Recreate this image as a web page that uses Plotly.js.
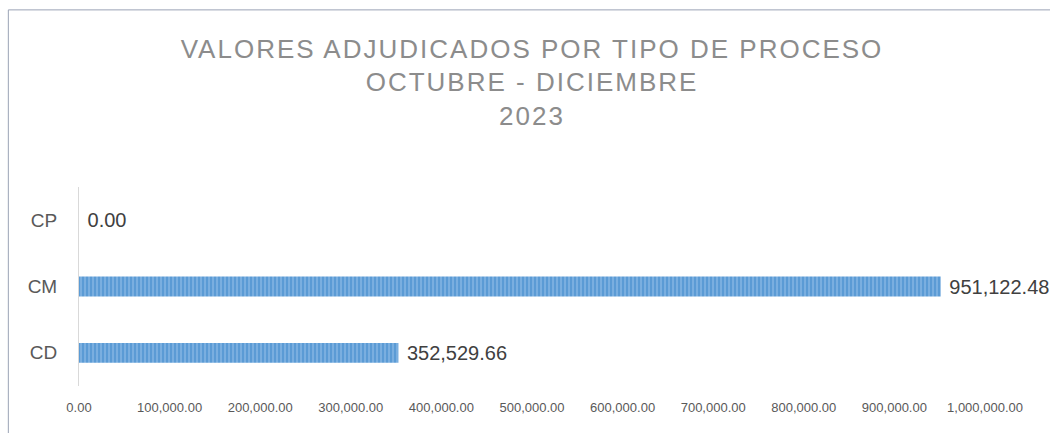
<!DOCTYPE html>
<html>
<head>
<meta charset="utf-8">
<script src="https://cdn.plot.ly/plotly-3.0.1.min.js"></script>
<style>
html,body{margin:0;padding:0;background:#fff;overflow:hidden;}
#chart{width:1050px;height:433px;}
.gtitle{letter-spacing:2px;}
</style>
</head>
<body>
<div id="chart"></div>
<script>
const categories = ["CD", "CM", "CP"];
const values = [352529.66, 951122.48, 0.00];
const valueLabels = ["352,529.66", "951,122.48", "0.00"];
const tickValues = [0, 100000, 200000, 300000, 400000, 500000, 600000, 700000, 800000, 900000, 1000000];
const tickLabels = ["0.00", "100,000.00", "200,000.00", "300,000.00", "400,000.00", "500,000.00", "600,000.00", "700,000.00", "800,000.00", "900,000.00", "1,000,000.00"];
const titleLines = ["VALORES ADJUDICADOS POR TIPO DE PROCESO", "OCTUBRE - DICIEMBRE", "2023"];

const trace = {
  type: "bar",
  orientation: "h",
  y: categories,
  x: values,
  text: valueLabels,
  texttemplate: "\u00a0%{text}",
  textposition: "outside",
  cliponaxis: false,
  constraintext: "none",
  textfont: {family: "Liberation Sans, Arial, sans-serif", size: 20, color: "#404040"},
  width: 0.3,
  marker: {
    color: "#5b9bd5",
    line: {width: 0},
    pattern: {shape: "|", fgcolor: "#b3d3f2", bgcolor: "#5b9bd5", size: 4, solidity: 0.35, fillmode: "overlay"}
  },
  hoverinfo: "none"
};

const layout = {
  width: 1050,
  height: 433,
  paper_bgcolor: "#ffffff",
  plot_bgcolor: "#ffffff",
  margin: {l: 79, r: 65, t: 187, b: 47},
  showlegend: false,
  title: {
    text: titleLines.join("<br>"),
    font: {family: "Liberation Sans, Arial, sans-serif", size: 26, color: "#8c8c8c"},
    x: 0.5, xref: "paper", xanchor: "center",
    y: 0.867, yref: "container", yanchor: "top"
  },
  xaxis: {
    range: [0, 1000000],
    tickmode: "array",
    tickvals: tickValues,
    ticktext: tickLabels,
    showgrid: false,
    zeroline: false,
    showline: false,
    ticks: "",
    ticklabelstandoff: 12,
    tickfont: {family: "Liberation Sans, Arial, sans-serif", size: 13, color: "#595959"},
    fixedrange: true
  },
  yaxis: {
    type: "category",
    categoryorder: "array",
    categoryarray: categories,
    range: [-0.5, 2.5],
    showgrid: false,
    zeroline: false,
    showline: true,
    linecolor: "#d9d9d9",
    linewidth: 1,
    ticks: "",
    ticklabelstandoff: 17,
    tickfont: {family: "Liberation Sans, Arial, sans-serif", size: 19, color: "#595959"},
    fixedrange: true
  },
  shapes: [{
    type: "rect", xref: "paper", yref: "paper",
    x0: -0.078, x1: 1.2, y0: -0.5, y1: 1.89,
    line: {color: "#9aa3b5", width: 1}, fillcolor: "rgba(0,0,0,0)", layer: "below"
  }]
};

Plotly.newPlot("chart", [trace], layout, {staticPlot: true, displayModeBar: false});
</script>
</body>
</html>
